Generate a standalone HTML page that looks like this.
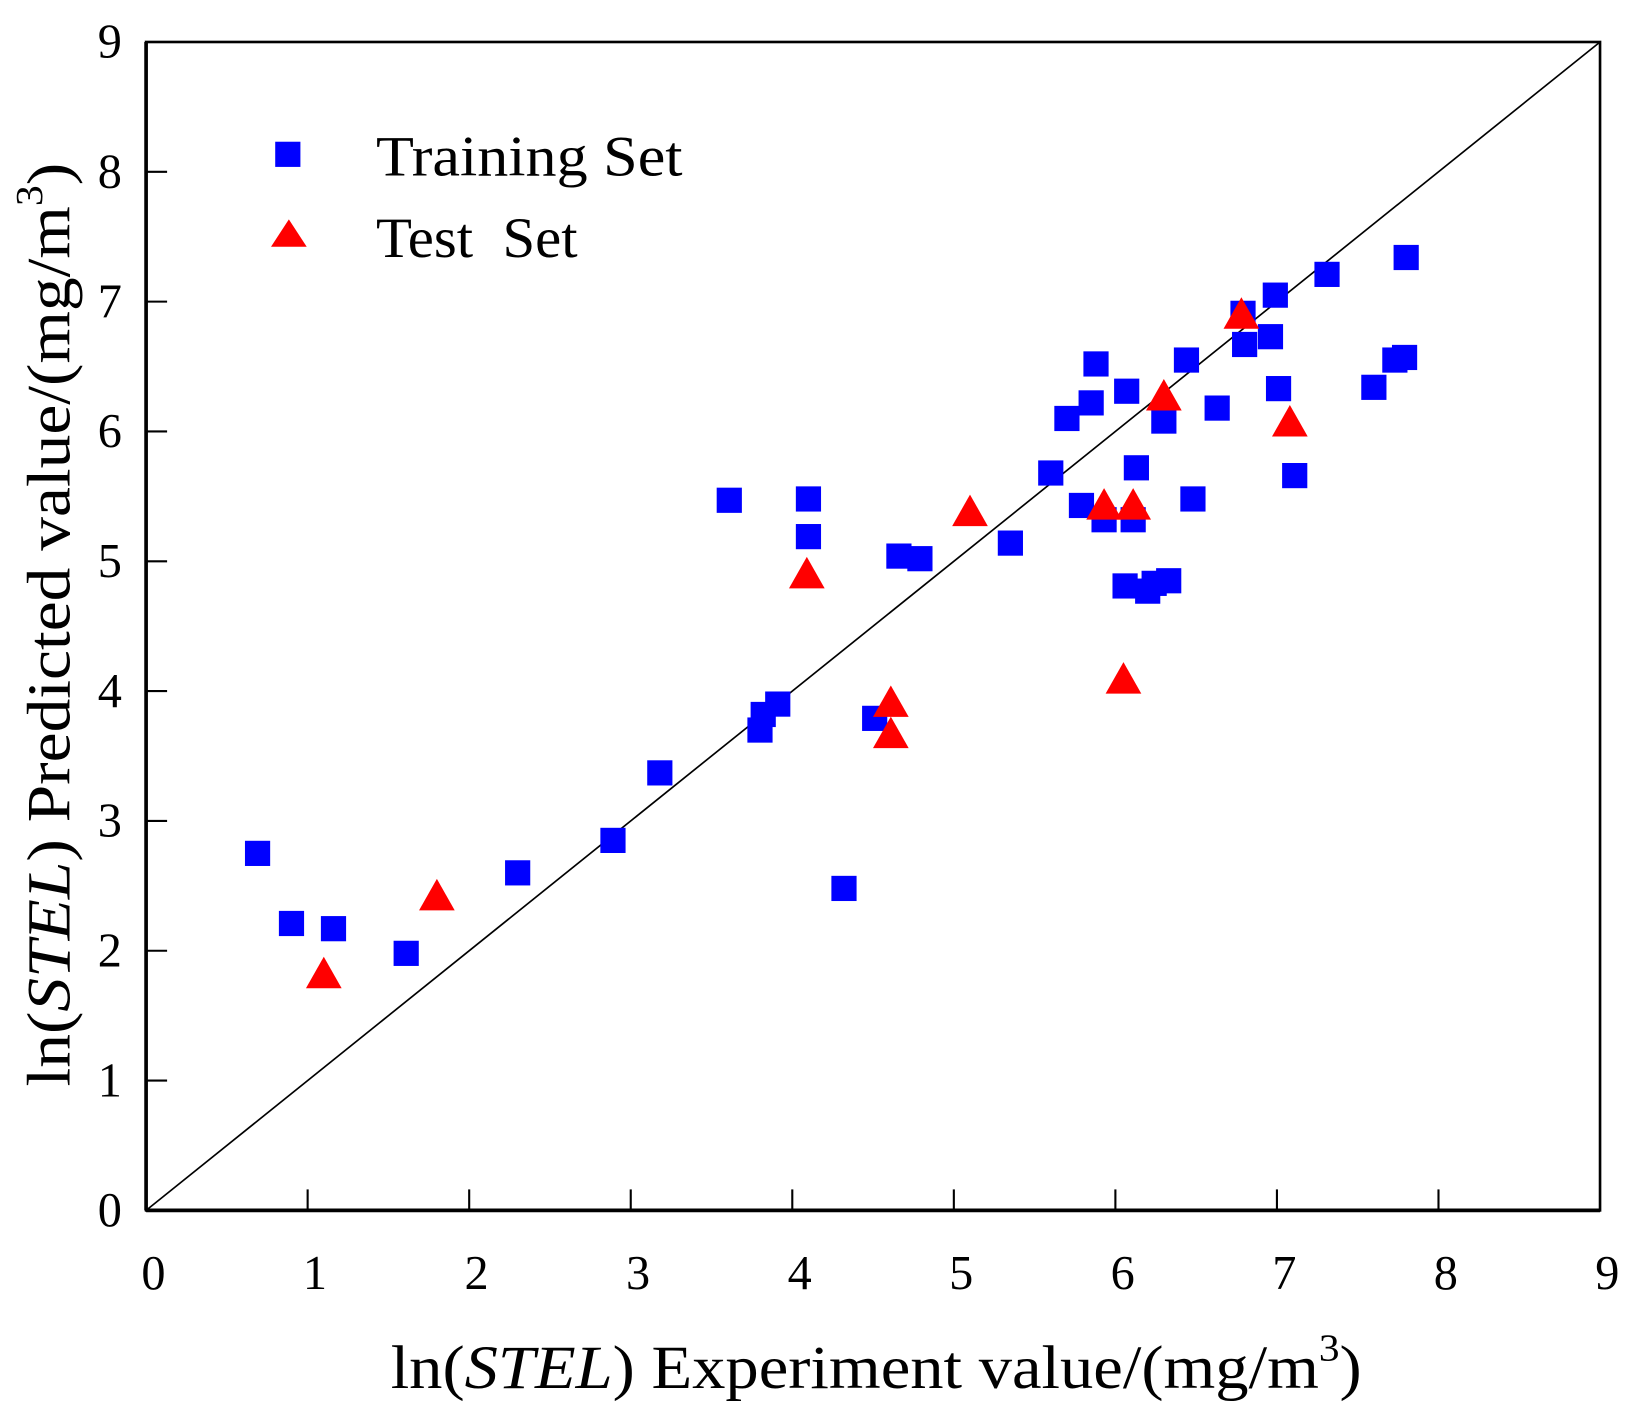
<!DOCTYPE html>
<html><head><meta charset="utf-8"><style>
html,body{margin:0;padding:0;background:#fff}
svg{display:block}
text{font-family:"Liberation Serif",serif;fill:#000}
</style></head><body>
<svg id="chart" width="1638" height="1413" viewBox="0 0 1560 1346" xmlns="http://www.w3.org/2000/svg">
<rect x="0" y="0" width="1560" height="1346" fill="#fff"/>
<g id="marks"></g>
<g id="axes"></g>
<text x="358" y="167" font-size="54" textLength="292" lengthAdjust="spacingAndGlyphs">Training Set</text>
<text x="358" y="245" font-size="54" textLength="192" lengthAdjust="spacingAndGlyphs" xml:space="preserve">Test  Set</text>
<rect x="262" y="135" width="24" height="24" fill="#0000ff"/>
<polygon points="275,209 258,235 292,235" fill="#ff0000"/>
<text x="372" y="1322" font-size="58" textLength="925" lengthAdjust="spacingAndGlyphs">ln(<tspan font-style="italic">STEL</tspan>) Experiment value/(mg/m<tspan font-size="36" dy="-26">3</tspan><tspan dy="26">)</tspan></text>
<text transform="translate(66,1035) rotate(-90)" font-size="58" textLength="880" lengthAdjust="spacingAndGlyphs">ln(<tspan font-style="italic">STEL</tspan>) Predicted value/(mg/m<tspan font-size="36" dy="-26">3</tspan><tspan dy="26">)</tspan></text>
</svg>
<script>
const trainX=[0.69,0.90,1.16,1.61,2.30,2.89,3.18,3.61,3.80,3.82,3.91,4.10,4.10,4.32,4.51,4.66,4.79,5.35,5.60,5.70,5.79,5.85,5.88,5.93,6.06,6.07,6.11,6.13,6.20,6.24,6.33,6.30,6.44,6.48,6.63,6.79,6.80,6.96,6.99,7.01,7.11,7.31,7.60,7.73,7.79,7.80];
const trainY=[2.75,2.21,2.17,1.98,2.60,2.85,3.37,5.47,3.70,3.82,3.90,5.48,5.19,2.48,3.79,5.04,5.02,5.14,5.68,6.10,5.43,6.22,6.52,5.32,4.81,6.31,5.32,5.72,4.77,4.83,4.85,6.08,6.55,5.48,6.18,6.91,6.67,6.73,7.05,6.33,5.66,7.21,6.34,6.55,6.57,7.34];
const testX=[1.10,1.80,4.09,4.61,4.61,5.10,5.93,6.11,6.05,6.30,6.78,7.08];
const testY=[1.80,2.40,4.88,3.89,3.65,5.36,5.41,5.41,4.07,6.25,6.88,6.05];
const ticks=[0,1,2,3,4,5,6,7,8,9];
const NS="http://www.w3.org/2000/svg";
const L=139,R=1524,T=40,B=1153;
const sx=v=>L+(v-0)/9*(R-L);
const sy=v=>B-(v-0)/9*(B-T);
function mk(tag,attrs,parent){const e=document.createElementNS(NS,tag);for(const k in attrs)e.setAttribute(k,attrs[k]);parent.appendChild(e);return e;}
const axes=document.getElementById('axes'),marks=document.getElementById('marks');
let d=mk('line',{x1:sx(0),y1:sy(0),x2:sx(9),y2:sy(9),stroke:'#000','stroke-width':1.6},marks);


trainX.forEach((x,i)=>{
  const r=mk('rect',{x:sx(x)-12,y:sy(trainY[i])-12,width:24,height:24,fill:'#0000ff'},marks);
  
  
});
testX.forEach((x,i)=>{
  const cx=sx(x),cy=sy(testY[i]);
  const p=mk('polygon',{points:`${cx},${cy-19} ${cx-17},${cy+11} ${cx+17},${cy+11}`,fill:'#ff0000'},marks);
  
  
});
const frame=mk('rect',{x:L,y:T,width:R-L,height:B-T,fill:'none',stroke:'#000','stroke-width':2.5},axes);


mk('line',{x1:L,y1:B,x2:R,y2:B,stroke:'#000','stroke-width':3.5},axes);
mk('line',{x1:L,y1:T,x2:L,y2:B,stroke:'#000','stroke-width':3.5},axes);
ticks.forEach(t=>{
  if(t>0&&t<9){
    mk('line',{x1:sx(t),y1:B,x2:sx(t),y2:B-20,stroke:'#000','stroke-width':2},axes);
    mk('line',{x1:L,y1:sy(t),x2:L+20,y2:sy(t),stroke:'#000','stroke-width':2},axes);
  }
  const xl=mk('text',{x:sx(t)+7,y:1228,'font-size':46,'text-anchor':'middle'},axes);
  xl.textContent=t;
  
  
  const yl=mk('text',{x:116,y:sy(t)+15,'font-size':46,'text-anchor':'end'},axes);
  yl.textContent=t;
  
  
});
</script>
</body></html>
